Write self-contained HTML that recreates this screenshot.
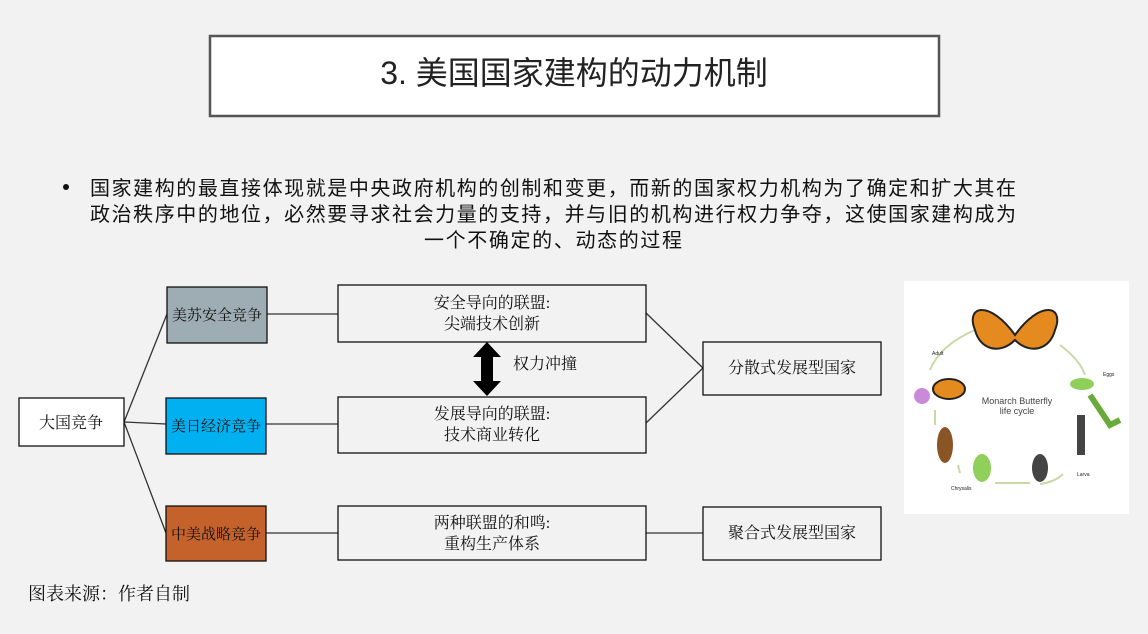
<!DOCTYPE html>
<html><head><meta charset="utf-8"><style>
html,body{margin:0;padding:0;background:#f2f2f2;}
svg{display:block;}
text{font-family:"Liberation Sans","Noto Sans CJK SC",sans-serif;}
.s{font-family:"Liberation Serif","Noto Serif CJK SC",serif;}
</style></head><body>
<svg width="1148" height="634" viewBox="0 0 1148 634" xmlns="http://www.w3.org/2000/svg">
<rect width="1148" height="634" fill="#f2f2f2"/>
<rect x="210" y="36" width="729" height="80" fill="#fff" stroke="#555" stroke-width="2.5"/>
<text x="574" y="84" font-size="32" text-anchor="middle" fill="#222">3. 美国国家建构的动力机制</text>
<circle cx="66" cy="187" r="3" fill="#111"/>
<text x="90" y="195" font-size="20" textLength="926" lengthAdjust="spacing" fill="#111">国家建构的最直接体现就是中央政府机构的创制和变更，而新的国家权力机构为了确定和扩大其在</text>
<text x="90" y="221" font-size="20" textLength="926" lengthAdjust="spacing" fill="#111">政治秩序中的地位，必然要寻求社会力量的支持，并与旧的机构进行权力争夺，这使国家建构成为</text>
<text x="424" y="247" font-size="20" textLength="258" lengthAdjust="spacing" fill="#111">一个不确定的、动态的过程</text>
<g stroke="#333" stroke-width="1.3" fill="none">
<line x1="124" y1="422" x2="167" y2="314"/>
<line x1="124" y1="422" x2="166" y2="424"/>
<line x1="124" y1="422" x2="166" y2="533"/>
<line x1="267" y1="314" x2="338" y2="314"/>
<line x1="266" y1="424" x2="338" y2="424"/>
<line x1="266" y1="533" x2="338" y2="533"/>
<line x1="646" y1="313" x2="703" y2="368"/>
<line x1="646" y1="423" x2="703" y2="368"/>
<line x1="646" y1="533" x2="703" y2="533"/>
</g>
<g stroke="#111" stroke-width="1.3">
<rect x="19" y="398" width="105" height="48" fill="#fff"/>
<rect x="167" y="287" width="100" height="56" fill="#9eadb3"/>
<rect x="166" y="398" width="100" height="56" fill="#00b0f0"/>
<rect x="166" y="506" width="100" height="55" fill="#c5622c"/>
<rect x="338" y="285" width="308" height="57" fill="#f2f2f2"/>
<rect x="338" y="397" width="308" height="56" fill="#f2f2f2"/>
<rect x="338" y="506" width="308" height="54" fill="#f2f2f2"/>
<rect x="703" y="342" width="178" height="53" fill="#f2f2f2"/>
<rect x="703" y="507" width="178" height="53" fill="#f2f2f2"/>
</g>
<g font-size="16" fill="#111" text-anchor="middle">
<text class="s" x="71" y="428">大国竞争</text>
<text class="s" x="217" y="320" font-size="15">美苏安全竞争</text>
<text class="s" x="216" y="431" font-size="15">美日经济竞争</text>
<text class="s" x="216" y="539" font-size="15">中美战略竞争</text>
<text class="s" x="492" y="308">安全导向的联盟:</text>
<text class="s" x="492" y="329">尖端技术创新</text>
<text class="s" x="492" y="419">发展导向的联盟:</text>
<text class="s" x="492" y="440">技术商业转化</text>
<text class="s" x="492" y="528">两种联盟的和鸣:</text>
<text class="s" x="492" y="549">重构生产体系</text>
<text class="s" x="792" y="373">分散式发展型国家</text>
<text class="s" x="792" y="538">聚合式发展型国家</text>
<text class="s" x="545" y="369">权力冲撞</text>
</g>
<polygon points="487,342 501,357 493,357 493,381 501,381 487,396 473,381 481,381 481,357 473,357" fill="#000"/>
<text class="s" x="28" y="600" font-size="18" fill="#111">图表来源：作者自制</text>
<rect x="904" y="281" width="225" height="233" fill="#fff"/>
<g fill="none" stroke="#c9d8a8" stroke-width="2">
<path d="M975 330 Q940 345 930 370"/><path d="M1060 345 Q1080 360 1085 375"/>
<path d="M1095 402 L1098 410"/><path d="M1063 474 Q1055 482 1040 484"/>
<path d="M1030 483 L995 483"/><path d="M960 473 L958 465"/><path d="M935 425 L935 410"/>
</g>
<path d="M1015 335 C990 300 965 305 975 330 C980 350 1000 355 1015 340 C1030 355 1050 350 1055 330 C1065 305 1040 300 1015 335Z" fill="#e58a1f" stroke="#222" stroke-width="2"/>
<ellipse cx="949" cy="389" rx="16" ry="10" fill="#e58a1f" stroke="#222" stroke-width="2"/>
<circle cx="922" cy="396" r="8" fill="#c98ad8"/>
<ellipse cx="1082" cy="384" rx="12" ry="6" fill="#8fcf5a"/>
<path d="M1090 395 L1110 425 L1120 420" stroke="#6aaa3a" stroke-width="6" fill="none"/>
<rect x="1077" y="415" width="8" height="40" fill="#444"/>
<ellipse cx="982" cy="468" rx="9" ry="14" fill="#8fcf5a"/>
<ellipse cx="1040" cy="468" rx="8" ry="14" fill="#444"/>
<ellipse cx="945" cy="445" rx="8" ry="18" fill="#8a5524"/>
<text x="1017" y="404" font-size="9" fill="#444" text-anchor="middle">Monarch Butterfly</text>
<text x="1017" y="414" font-size="9" fill="#444" text-anchor="middle">life cycle</text>
<text x="932" y="355" font-size="5" fill="#222">Adult</text>
<text x="1103" y="376" font-size="5" fill="#222">Eggs</text>
<text x="1077" y="476" font-size="5" fill="#222">Larva</text>
<text x="951" y="490" font-size="5" fill="#222">Chrysalis</text>
</svg>
</body></html>
